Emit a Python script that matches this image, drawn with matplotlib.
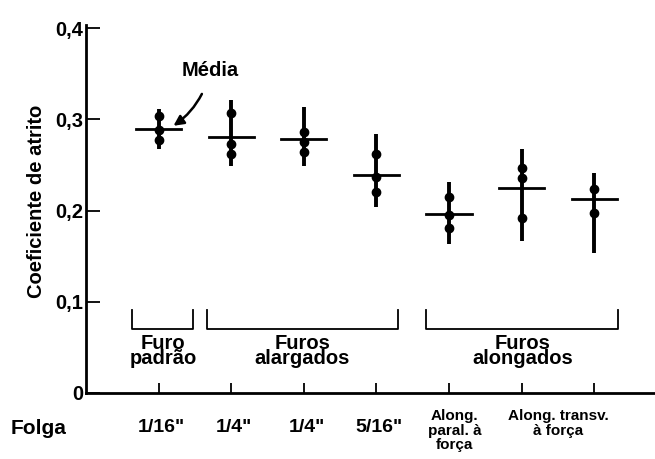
import matplotlib
matplotlib.use("Agg")
import matplotlib.pyplot as plt
import matplotlib.transforms as mtransforms

plt.rcParams['font.family'] = ['Liberation Sans', 'DejaVu Sans']
plt.rcParams['font.weight'] = 'bold'
plt.rcParams['axes.labelweight'] = 'bold'

# valores
posicoes = [1, 2, 3, 4, 5, 6, 7]
medias = [0.289, 0.281, 0.278, 0.239, 0.196, 0.225, 0.213]
maximos = [0.311, 0.321, 0.314, 0.284, 0.231, 0.268, 0.241]
minimos = [0.268, 0.249, 0.249, 0.204, 0.163, 0.167, 0.153]
pontos = [
    [0.304, 0.288, 0.277],
    [0.307, 0.273, 0.262],
    [0.286, 0.275, 0.264],
    [0.262, 0.237, 0.220],
    [0.215, 0.195, 0.181],
    [0.247, 0.236, 0.192],
    [0.224, 0.197],
]
folgas = ['1/16"', '1/4"', '1/4"', '5/16"']
grupos = ['Furo\npadrão', 'Furos\nalargados', 'Furos\nalongados']
grupos_x = [(0.64, 1.48), (1.66, 4.30), (4.69, 7.33)]
yticks = [0, 0.1, 0.2, 0.3, 0.4]
ytick_labels = ['0', '0,1', '0,2', '0,3', '0,4']

fig = plt.figure(figsize=(6.55, 4.59), dpi=100)
ax = fig.add_axes([86 / 655, 66 / 459, 569 / 655, 368 / 459])

meia = 0.31
for i, x in enumerate(posicoes):
    ax.plot([x, x], [minimos[i], maximos[i]], color='black', lw=2.8, solid_capstyle='butt')
    ax.plot([x - meia, x + meia], [medias[i], medias[i]], color='black', lw=2.0)
    ax.plot([x] * len(pontos[i]), pontos[i], 'o', color='black', ms=6)

# chaves dos grupos
topo, base = 0.091, 0.070
for (x0, x1), nome in zip(grupos_x, grupos):
    ax.plot([x0, x0, x1, x1], [topo, base, base, topo], color='black', lw=1.3)
    ax.text((x0 + x1) / 2, 0.046, nome, ha='center', va='center',
            fontsize=14.5, linespacing=0.78)

ax.annotate('Média', xy=(1.205, 0.293), xytext=(1.71, 0.354),
            ha='center', va='center', fontsize=14.5,
            arrowprops=dict(arrowstyle='-|>', color='black', lw=1.8,
                            mutation_scale=15, shrinkA=9, shrinkB=0,
                            connectionstyle='arc3,rad=-0.2'))

ax.set_xlim(0, 569 / 72.6)
ax.set_ylim(0, 368 / 912)
ax.set_yticks(yticks)
ax.set_yticklabels(ytick_labels, fontsize=14.5)
ax.set_xticks(posicoes)
ax.set_xticklabels([])
ax.tick_params(axis='y', direction='in', length=10, width=1.3, pad=2)
ax.tick_params(axis='x', direction='in', length=7, width=1.3)
for s in ['top', 'right']:
    ax.spines[s].set_visible(False)
for s in ['left', 'bottom']:
    ax.spines[s].set_linewidth(2.0)

ax.set_ylabel('Coeficiente de atrito', fontsize=14.5)
ax.yaxis.set_label_coords(-40 / 569, 0.52)

# rotulos de folga abaixo do eixo
tr = mtransforms.blended_transform_factory(ax.transData, fig.transFigure)
fig.text(39 / 655, 1 - 428 / 459, 'Folga', ha='center', va='center', fontsize=15)
for x, lab in zip(posicoes[:4], folgas):
    ax.text(x + 0.04, 1 - 428 / 459, lab, transform=tr, ha='center', va='center', fontsize=14)
ax.text(5.08, 1 - 409 / 459, 'Along.\nparal. à\nforça', transform=tr,
        ha='center', va='top', fontsize=11, linespacing=1.05)
ax.text(6.5, 1 - 409 / 459, 'Along. transv.\nà força', transform=tr,
        ha='center', va='top', fontsize=11, linespacing=1.05)

fig.savefig('out.png', dpi=100)
